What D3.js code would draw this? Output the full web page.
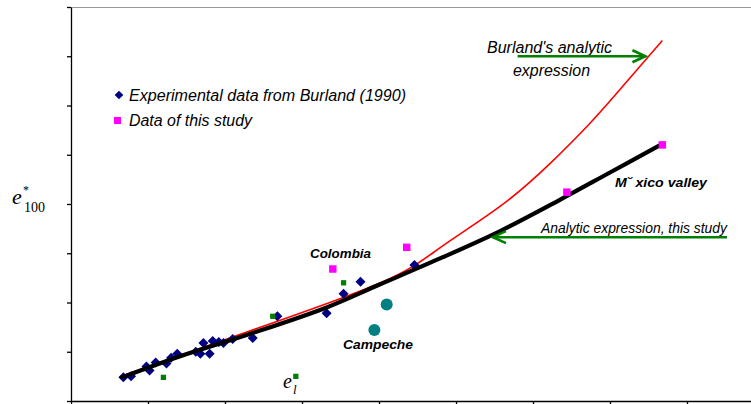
<!DOCTYPE html>
<html><head><meta charset="utf-8">
<script src="https://cdn.jsdelivr.net/npm/d3@7"></script>
<style>
html,body{margin:0;padding:0;background:#fff;overflow:hidden}
svg{display:block}
</style></head>
<body>
<script>
// ---- data (units: one tick = 0.5) ----
const xTicks = [0,0.5,1,1.5,2,2.5,3,3.5,4,4.5];
const yTicks = [0,0.5,1,1.5,2,2.5,3,3.5,4];

const burlandX = [0.34,0.39,0.49,0.51,0.55,0.62,0.65,0.69,0.81,0.84,0.86,0.90,0.92,0.96,0.99,1.05,1.18,1.34,1.66,1.77,1.88,2.23];
const burlandY = [0.24,0.25,0.35,0.31,0.39,0.38,0.44,0.48,0.50,0.48,0.59,0.48,0.61,0.60,0.59,0.63,0.64,0.86,0.89,1.09,1.21,1.38];

const studyX = [1.70,2.18,3.22,3.84];
const studyY = [1.34,1.56,2.12,2.60];

const greenX = [0.60,1.31,1.77,1.46];
const greenY = [0.24,0.86,1.20,0.25];

const campecheX = [2.05,1.97];
const campecheY = [0.98,0.72];

const fitX = [0.33,0.70,1.16,1.66,2.00,2.40,2.78,3.16,3.50,3.84];
const fitY = [0.24,0.45,0.68,0.95,1.18,1.45,1.72,2.03,2.32,2.61];

const burlandCurveX = [0.34,1.16,2.01,2.40,2.79,3.11,3.37,3.58,3.84];
const burlandCurveY = [0.26,0.71,1.20,1.56,1.98,2.41,2.82,3.19,3.66];

const W = 751, H = 404;
const svg = d3.select("body").append("svg").attr("width", W).attr("height", H);

const x = d3.scaleLinear().domain([0,4.5]).range([71,764]);
const y = d3.scaleLinear().domain([0,4]).range([401,7]);

// top border
svg.append("line").attr("x1",71).attr("x2",W).attr("y1",y(4)+0.5).attr("y2",y(4)+0.5)
  .attr("stroke","#999").attr("stroke-width",1.2);

const gx = svg.append("g").attr("transform",`translate(0,${y(0)})`)
  .call(d3.axisBottom(x).tickValues(xTicks).tickFormat("").tickSize(4).tickSizeOuter(0));
const gy = svg.append("g").attr("transform",`translate(${x(0)},0)`)
  .call(d3.axisLeft(y).tickValues(yTicks).tickFormat("").tickSize(4).tickSizeOuter(0));
[gx,gy].forEach(g=>{g.selectAll("path,line").attr("stroke","#000").attr("stroke-width",1.3);});

// curves
const line = d3.line().x(d=>x(d[0])).y(d=>y(d[1])).curve(d3.curveCatmullRom);
const smooth = d3.line().x(d=>x(d[0])).y(d=>y(d[1])).curve(d3.curveNatural);
svg.append("path").datum(burlandCurveX.map((v,i)=>[v,burlandCurveY[i]]))
  .attr("d",smooth).attr("fill","none").attr("stroke","#ff0000").attr("stroke-width",1.6);

// points
const diamond = d3.symbol().type(d3.symbolSquare).size(50);
svg.append("g").selectAll("path").data(burlandX.map((v,i)=>[v,burlandY[i]])).join("path")
  .attr("d",diamond).attr("fill","#000080")
  .attr("transform",d=>`translate(${x(d[0])},${y(d[1])}) rotate(45)`);

svg.append("path").datum(fitX.map((v,i)=>[v,fitY[i]]))
  .attr("d",line).attr("fill","none").attr("stroke","#000").attr("stroke-width",4.2)
  .attr("stroke-linecap","round");

const sq = d3.symbol().type(d3.symbolSquare);
svg.append("g").selectAll("path").data(greenX.map((v,i)=>[v,greenY[i]])).join("path")
  .attr("d",sq.size(28)()).attr("fill","#008000")
  .attr("transform",d=>`translate(${x(d[0])},${y(d[1])})`);
svg.append("g").selectAll("path").data(studyX.map((v,i)=>[v,studyY[i]])).join("path")
  .attr("d",d3.symbol().type(d3.symbolSquare).size(56)()).attr("fill","#ff00ff")
  .attr("transform",d=>`translate(${x(d[0])},${y(d[1])})`);
svg.append("g").selectAll("circle").data(campecheX.map((v,i)=>[v,campecheY[i]])).join("circle")
  .attr("cx",d=>x(d[0])).attr("cy",d=>y(d[1])).attr("r",6).attr("fill","#008080");

// legend
const lg = svg.append("g").attr("font-family","'Liberation Sans',Arial,sans-serif")
  .attr("font-style","italic").attr("font-size",16).attr("fill","#000");
lg.append("path").attr("d",d3.symbol().type(d3.symbolSquare).size(38)()).attr("fill","#000080")
  .attr("transform","translate(119,95) rotate(45)");
lg.append("text").attr("x",129).attr("y",101).attr("textLength",277).attr("lengthAdjust","spacingAndGlyphs")
  .text("Experimental data from Burland (1990)");
lg.append("rect").attr("x",114).attr("y",117).attr("width",7).attr("height",7).attr("fill","#ff00ff");
lg.append("text").attr("x",129).attr("y",125.5).attr("textLength",123).attr("lengthAdjust","spacingAndGlyphs")
  .text("Data of this study");

// annotations
const ann = svg.append("g").attr("font-family","'Liberation Sans',Arial,sans-serif").attr("fill","#000");
ann.append("text").attr("x",487).attr("y",53).attr("font-style","italic").attr("font-size",16)
  .attr("textLength",125).attr("lengthAdjust","spacingAndGlyphs").text("Burland's analytic");
ann.append("text").attr("x",513).attr("y",76).attr("font-style","italic").attr("font-size",16)
  .attr("textLength",77).attr("lengthAdjust","spacingAndGlyphs").text("expression");
ann.append("text").attr("x",541).attr("y",233).attr("font-style","italic").attr("font-size",14)
  .attr("textLength",186).attr("lengthAdjust","spacingAndGlyphs").text("Analytic expression, this study");
ann.append("text").attr("x",310).attr("y",258).attr("font-style","italic").attr("font-weight","bold").attr("font-size",13)
  .attr("textLength",61).attr("lengthAdjust","spacingAndGlyphs").text("Colombia");
ann.append("text").attr("x",343).attr("y",349).attr("font-style","italic").attr("font-weight","bold").attr("font-size",13)
  .attr("textLength",70).attr("lengthAdjust","spacingAndGlyphs").text("Campeche");
ann.append("text").attr("x",615).attr("y",187).attr("font-style","italic").attr("font-weight","bold").attr("font-size",13)
  .attr("textLength",92).attr("lengthAdjust","spacingAndGlyphs").text("M\u02D8 xico valley");

// arrows
function arrow(x1,y1,x2,y2){
  const g = svg.append("g").attr("stroke","#008000").attr("stroke-width",2.6).attr("fill","none");
  g.append("line").attr("x1",x1).attr("y1",y1).attr("x2",x2).attr("y2",y2);
  const dir = Math.sign(x2-x1);
  g.append("path").attr("d",`M${x2-dir*13},${y2-6} L${x2},${y2} L${x2-dir*13},${y2+6}`)
    .attr("stroke-linejoin","miter");
}
arrow(x(2.9),y(3.5),x(3.73),y(3.5));
arrow(x(4.26),y(1.663),x(2.74),y(1.663));

// axis label e*100
const al = svg.append("g").attr("font-family","'Liberation Serif','Times New Roman',serif").attr("fill","#000");
al.append("text").attr("x",12).attr("y",204).attr("font-style","italic").attr("font-size",22).text("e");
al.append("text").attr("x",23).attr("y",194).attr("font-size",12).text("*");
al.append("text").attr("x",24).attr("y",212).attr("font-size",14).text("100");

// e_l label
al.append("text").attr("x",283).attr("y",388).attr("font-style","italic").attr("font-size",20).text("e");
al.append("text").attr("x",293).attr("y",394).attr("font-style","italic").attr("font-size",13).text("l");
</script>
</body></html>
